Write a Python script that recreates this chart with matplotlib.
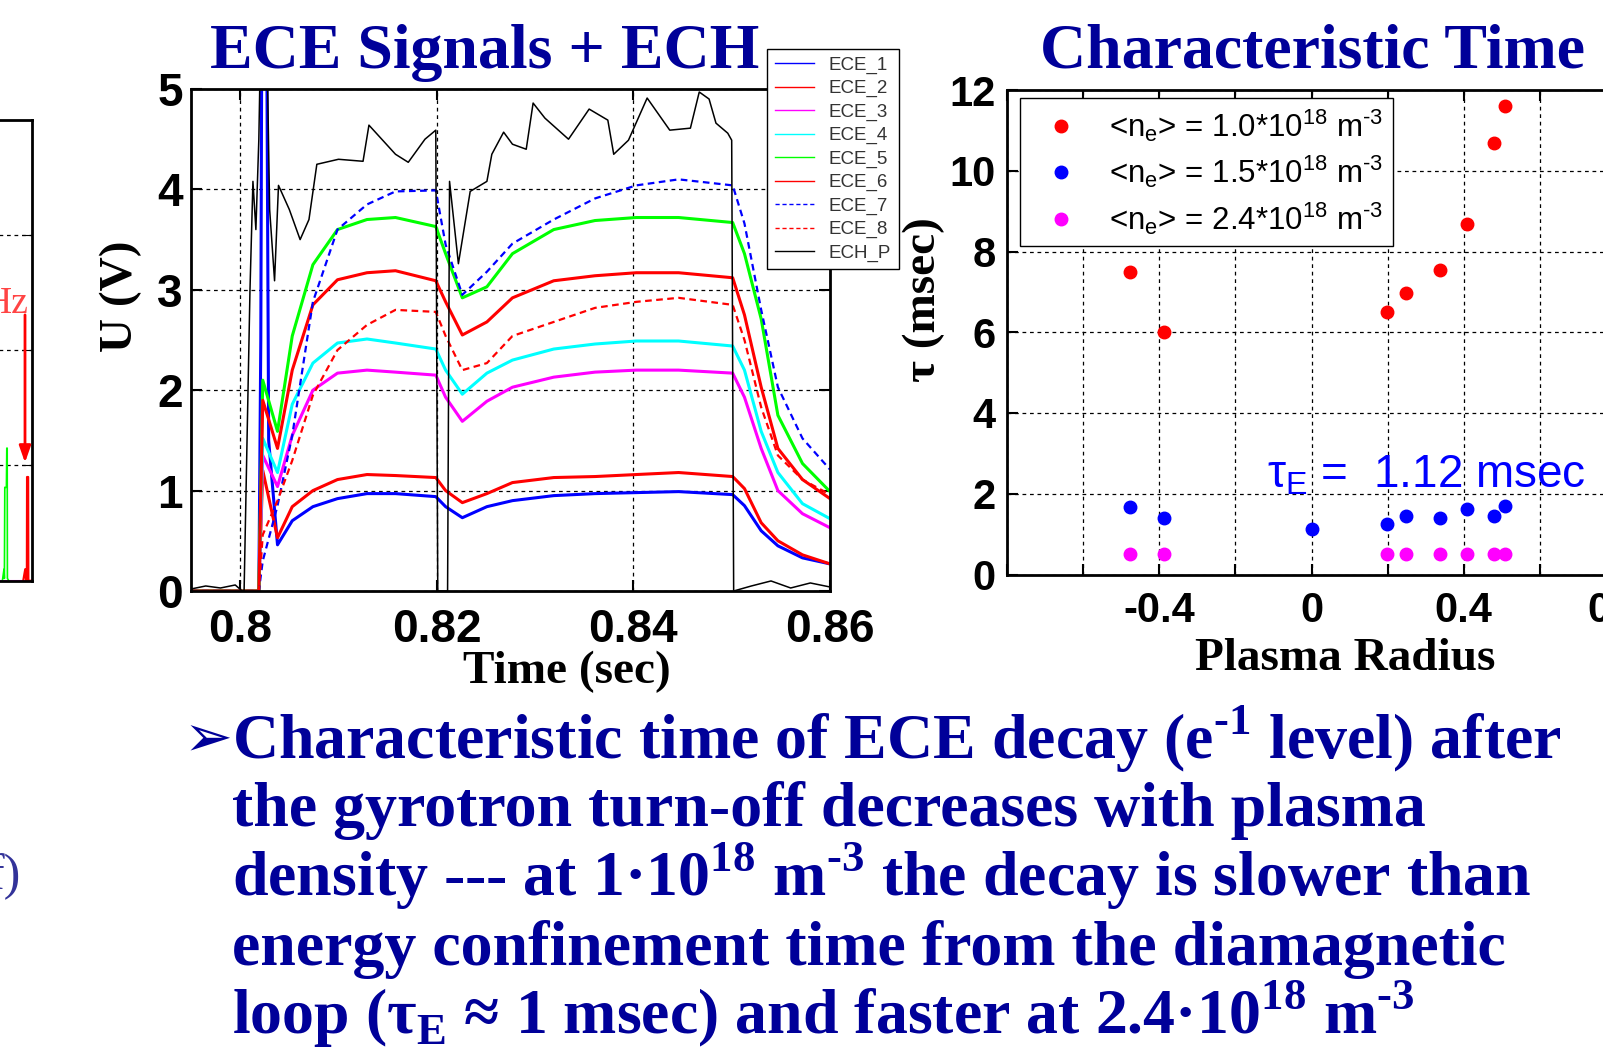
import matplotlib
matplotlib.use('Agg')
import matplotlib.pyplot as plt

# ---------------- data ----------------
# ECE signals + ECH (time in sec, signal in V)
t_ece = [0.795, 0.8019, 0.8023, 0.8038, 0.8053, 0.8074, 0.8099, 0.8129, 0.8158,
         0.8199, 0.8209, 0.8226, 0.8251, 0.8277, 0.8319, 0.8361, 0.8403, 0.8446,
         0.8501, 0.8513, 0.8530, 0.8547, 0.8572, 0.8600]
ece2 = [0, 0, 1.20, 0.53, 0.84, 1.00, 1.11, 1.16, 1.15, 1.13, 1.00, 0.88, 0.97, 1.08,
        1.13, 1.14, 1.16, 1.18, 1.14, 1.02, 0.68, 0.50, 0.36, 0.27]
ece3 = [0, 0, 1.35, 1.04, 1.55, 2.00, 2.17, 2.20, 2.18, 2.15, 1.93, 1.69, 1.89, 2.03,
        2.13, 2.18, 2.20, 2.20, 2.17, 1.93, 1.42, 1.00, 0.77, 0.63]
ece4 = [0, 0, 1.52, 1.18, 1.86, 2.27, 2.47, 2.51, 2.47, 2.41, 2.20, 1.96, 2.17, 2.30,
        2.41, 2.46, 2.49, 2.49, 2.44, 2.20, 1.59, 1.18, 0.87, 0.72]
ece5 = [0, 0, 2.10, 1.59, 2.54, 3.25, 3.60, 3.70, 3.72, 3.63, 3.36, 2.92, 3.03, 3.36,
        3.60, 3.69, 3.72, 3.72, 3.67, 3.36, 2.71, 1.75, 1.27, 0.99]
ece6 = [0, 0, 1.90, 1.42, 2.20, 2.85, 3.10, 3.17, 3.19, 3.09, 2.88, 2.55, 2.68, 2.92,
        3.09, 3.14, 3.17, 3.17, 3.12, 2.75, 2.03, 1.42, 1.11, 0.92]
ece7 = [0, 0, 0.30, 0.85, 1.55, 2.88, 3.60, 3.85, 3.98, 3.99, 3.45, 2.95, 3.18, 3.46,
        3.70, 3.91, 4.04, 4.10, 4.04, 3.66, 2.80, 2.03, 1.52, 1.21]
ece8 = [0, 0, 0.56, 0.90, 1.30, 1.95, 2.40, 2.65, 2.80, 2.78, 2.54, 2.20, 2.27, 2.54,
        2.68, 2.82, 2.88, 2.92, 2.85, 2.50, 1.83, 1.35, 1.11, 0.96]

t_ece1 = [0.795, 0.8019, 0.8021, 0.8022, 0.8027, 0.8029, 0.8038, 0.8053, 0.8074,
          0.8099, 0.8129, 0.8158, 0.8199, 0.8209, 0.8226, 0.8251, 0.8277, 0.8319,
          0.8361, 0.8403, 0.8446, 0.8501, 0.8513, 0.8530, 0.8547, 0.8572, 0.8600]
ece1 = [0, 0, 2.5, 5.6, 5.6, 1.5, 0.46, 0.70, 0.84, 0.92, 0.97, 0.97, 0.94, 0.84, 0.73,
        0.84, 0.90, 0.95, 0.97, 0.98, 0.99, 0.96, 0.85, 0.60, 0.45, 0.33, 0.27]

t_ech = [0.795, 0.7965, 0.798, 0.7995, 0.8002, 0.8004, 0.8010, 0.8013, 0.8016, 0.8019,
         0.8021, 0.8027, 0.8030, 0.8035, 0.8039, 0.8050, 0.8061, 0.8070, 0.8078, 0.8100,
         0.8125, 0.8131, 0.8158, 0.8171, 0.8188, 0.8199, 0.8201, 0.8211, 0.8213, 0.8222,
         0.8234, 0.8251, 0.8256, 0.8268, 0.8277, 0.8291, 0.8298, 0.8310, 0.8334, 0.8355,
         0.8374, 0.8380, 0.8395, 0.8414, 0.8437, 0.8458, 0.8467, 0.8477, 0.8484, 0.8496,
         0.8500, 0.8502, 0.8520, 0.8540, 0.8560, 0.8580, 0.8600]
ech = [0.02, 0.05, 0.03, 0.06, 0.0, 0.0, 3.0, 4.08, 3.6, 4.5,
       5.6, 5.6, 3.8, 3.09, 4.04, 3.8, 3.5, 3.7, 4.25, 4.3,
       4.28, 4.64, 4.35, 4.27, 4.5, 4.59, 0.0, 0.0, 4.08, 3.26,
       3.98, 4.08, 4.35, 4.57, 4.45, 4.4, 4.86, 4.71, 4.5, 4.8,
       4.69, 4.35, 4.49, 4.91, 4.59, 4.61, 4.97, 4.9, 4.66, 4.56,
       4.49, 0.0, 0.05, 0.1, 0.03, 0.08, 0.04]

ece_labels = ['ECE_1', 'ECE_2', 'ECE_3', 'ECE_4', 'ECE_5', 'ECE_6', 'ECE_7', 'ECE_8', 'ECH_P']

# Characteristic time vs plasma radius
r_10 = [-0.477, -0.387, 0.198, 0.247, 0.338, 0.409, 0.480, 0.509]
tau_10 = [7.49, 6.00, 6.50, 6.96, 7.55, 8.69, 10.68, 11.60]
r_15 = [-0.477, -0.387, 0.0, 0.198, 0.247, 0.338, 0.409, 0.480, 0.509]
tau_15 = [1.66, 1.41, 1.12, 1.24, 1.45, 1.41, 1.62, 1.45, 1.70]
r_24 = [-0.477, -0.387, 0.198, 0.247, 0.338, 0.409, 0.480, 0.509]
tau_24 = [0.52, 0.52, 0.50, 0.50, 0.50, 0.50, 0.50, 0.50]
dens_labels = ['1.0', '1.5', '2.4']
tau_E = 1.12

# clipped spectrum panel at the left edge
spec_green_x = [92.6, 93.0, 93.1, 93.2, 93.25, 93.6, 93.7, 93.8, 93.85, 94.2]
spec_green_y = [0, 0.1, 0.02, 0.81, 0.81, 0.81, 1.15, 1.15, 0.02, 0]
spec_red_x = [97.8, 98.3, 98.5, 98.7, 98.75, 99.05, 99.1, 100]
spec_red_y = [0, 0.1, 0.0, 0.0, 0.9, 0.9, 0.0, 0]

HY = '\u2010'  # short hyphen for the superscript exponents
bullet_lines = [
    r'Characteristic time of ECE decay (e$^{\mathregular{' + HY + r'1}}$ level) after',
    r'the gyrotron turn-off decreases with plasma',
    r'density --- at 1·10$^{\mathregular{18}}$ m$^{\mathregular{' + HY + r'3}}$ the decay is slower than',
    r'energy confinement time from the diamagnetic',
    r'loop (τ$_{\mathregular{E}}$ ≈ 1 msec) and faster at 2.4·10$^{\mathregular{18}}$ m$^{\mathregular{' + HY + r'3}}$',
]

# ---------------- figure ----------------
W, H = 1603, 1064
fig = plt.figure(figsize=(W / 100, H / 100), dpi=100)
NAVY = '#000099'
SERIF = 'Liberation Serif'
SANS = 'Liberation Sans'
grid_kw = dict(color='black', lw=0.9, ls=(0, (3, 3)))


def box(x0, y0, x1, y1):
    return [x0 / W, 1 - y1 / H, (x1 - x0) / W, (y1 - y0) / H]


def bold_ticks(a, size):
    for lab in a.get_xticklabels() + a.get_yticklabels():
        lab.set_fontfamily(SANS)
        lab.set_fontweight('bold')
        lab.set_fontsize(size)


# left, mostly hidden spectrum panel
axl = fig.add_axes(box(32 - 400, 119.6, 32, 580.7))
axl.plot([0, 100], [0, 0], color='#ff00ff', lw=1.5)
axl.plot(spec_green_x, spec_green_y, color='#00ff00', lw=1.2)
axl.plot(spec_red_x, spec_red_y, color='#ff0000', lw=1.5)
axl.set_xlim(0, 100)
axl.set_ylim(0, 4)
axl.set_yticks([1, 2, 3])
axl.set_xticks([])
axl.yaxis.grid(True, **grid_kw)
axl.tick_params(axis='y', direction='in', length=7, right=True, left=False,
                labelleft=False)
for s in axl.spines.values():
    s.set_linewidth(2)
axl.annotate('', xy=(98.25, 1.0), xytext=(98.25, 2.33),
             arrowprops=dict(arrowstyle='-|>,head_width=0.35,head_length=1.0',
                             color='#ff0000', lw=2))
axl.text(99.2, 2.32, 'Hz', color='#ff4444', family=SERIF, fontsize=27,
         ha='right', va='baseline')

# ECE signals
ax = fig.add_axes(box(191, 89, 830, 591))
ax.plot(t_ece1, ece1, color='#0000ff', lw=2.2)
ax.plot(t_ece, ece2, color='#ff0000', lw=2.2)
ax.plot(t_ece, ece3, color='#ff00ff', lw=2.2)
ax.plot(t_ece, ece4, color='#00ffff', lw=2.2)
ax.plot(t_ece, ece5, color='#00ff00', lw=2.2)
ax.plot(t_ece, ece6, color='#ff0000', lw=2.2)
ax.plot(t_ece, ece7, color='#0000ff', lw=1.6, ls=(0, (3, 2)))
ax.plot(t_ece, ece8, color='#ff0000', lw=1.6, ls=(0, (3, 2)))
ax.plot(t_ech, ech, color='black', lw=1.1)
ax.set_xlim(0.795, 0.86)
ax.set_ylim(0, 5)
ax.set_xticks([0.8, 0.82, 0.84, 0.86])
ax.set_xticklabels(['0.8', '0.82', '0.84', '0.86'])
ax.set_yticks([0, 1, 2, 3, 4, 5])
ax.grid(True, **grid_kw)
ax.tick_params(direction='in', length=8, width=1.5, top=True, right=True)
ax.tick_params(axis='x', pad=12)
ax.tick_params(axis='y', pad=6)
bold_ticks(ax, 33)
for s in ax.spines.values():
    s.set_linewidth(2)
ax.set_xlabel('Time (sec)', family=SERIF, weight='bold', fontsize=34, va='baseline')
ax.xaxis.set_label_coords(0.588, -0.183)
ax.set_ylabel('U (V)', family=SERIF, weight='bold', fontsize=34, va='center')
ax.yaxis.set_label_coords(-0.11, 0.588)
leg = ax.legend(ax.get_lines(), ece_labels, loc='upper left',
                bbox_to_anchor=(767 / W, 1 - 49 / H), bbox_transform=fig.transFigure,
                borderaxespad=0, prop={'family': SANS, 'size': 13.5},
                handlelength=2.1, handletextpad=0.8, labelspacing=0.33,
                borderpad=0.4, fancybox=False, framealpha=1, edgecolor='black')
leg.get_frame().set_linewidth(1)
for txt in leg.get_texts():
    txt.set_color('#333333')
for ln in leg.get_lines():
    ln.set_linewidth(1)

fig.text(485 / W, 1 - 67.5 / H, 'ECE Signals + ECH', family=SERIF, weight='bold',
         fontsize=46, color=NAVY, ha='center', va='baseline')

# Characteristic time
ax2 = fig.add_axes(box(1007, 90, 1616, 574.5))
dens_colors = ['#ff0000', '#0000ff', '#ff00ff']
for rr, tt, d, c in zip([r_10, r_15, r_24], [tau_10, tau_15, tau_24], dens_labels, dens_colors):
    ax2.plot(rr, tt, 'o', color=c, ms=9, mec=c,
             label=r'<n$_{\mathregular{e}}$> = ' + d + r'*10$^{\mathregular{18}}$ m$^{\mathregular{' + HY + r'3}}$')
ax2.set_xlim(-0.8, 0.8)
ax2.set_ylim(0, 12)
ax2.set_xticks([-0.8, -0.6, -0.4, -0.2, 0.0, 0.2, 0.4, 0.6, 0.8])
ax2.set_xticklabels(['', '', '-0.4', '', '0', '', '0.4', '', '0.8'])
ax2.set_yticks([0, 2, 4, 6, 8, 10, 12])
ax2.grid(True, **grid_kw)
ax2.tick_params(direction='in', length=8, width=1.5, top=True, right=True)
ax2.tick_params(axis='x', pad=12)
ax2.tick_params(axis='y', pad=8)
bold_ticks(ax2, 30)
for s in ax2.spines.values():
    s.set_linewidth(2)
ax2.set_xlabel('Plasma Radius', family=SERIF, weight='bold', fontsize=34, va='baseline')
ax2.xaxis.set_label_coords(0.555, -0.197)
ax2.set_ylabel('τ (msec)', family=SERIF, weight='bold', fontsize=34, va='center')
ax2.yaxis.set_label_coords(-0.136, 0.567)
leg2 = ax2.legend(loc='upper left', bbox_to_anchor=(1020 / W, 1 - 98 / H),
                  bbox_transform=fig.transFigure, borderaxespad=0,
                  prop={'family': SANS, 'size': 22.5}, numpoints=1, handlelength=2.0,
                  handletextpad=0.55, labelspacing=0.32, borderpad=0.3,
                  fancybox=False, framealpha=1, edgecolor='black')
leg2.get_frame().set_linewidth(1)
ax2.text(-0.117, 2.15, r'τ$_{\mathregular{E}}$ =  ' + f'{tau_E:.2f} msec', family=SANS,
         fontsize=33, color='#0000ff', va='baseline')

fig.text(1313 / W, 1 - 67.5 / H, 'Characteristic Time', family=SERIF, weight='bold',
         fontsize=46, color=NAVY, ha='center', va='baseline')

# bullet text
baselines = [758.6, 826.5, 895.5, 965.0, 1034.0]
fig.text(184 / W, 1 - 756 / H, '➢', family='DejaVu Sans', fontsize=42,
         color=NAVY, va='baseline')
for line, yb in zip(bullet_lines, baselines):
    fig.text(232 / W, 1 - yb / H, line, family=SERIF, weight='bold', fontsize=46,
             color=NAVY, va='baseline')

fig.text(21 / W, 1 - 889 / H, 'f)', family=SERIF, fontsize=36, color='#333399',
         ha='right', va='baseline')

fig.savefig('out.png', dpi=100)
